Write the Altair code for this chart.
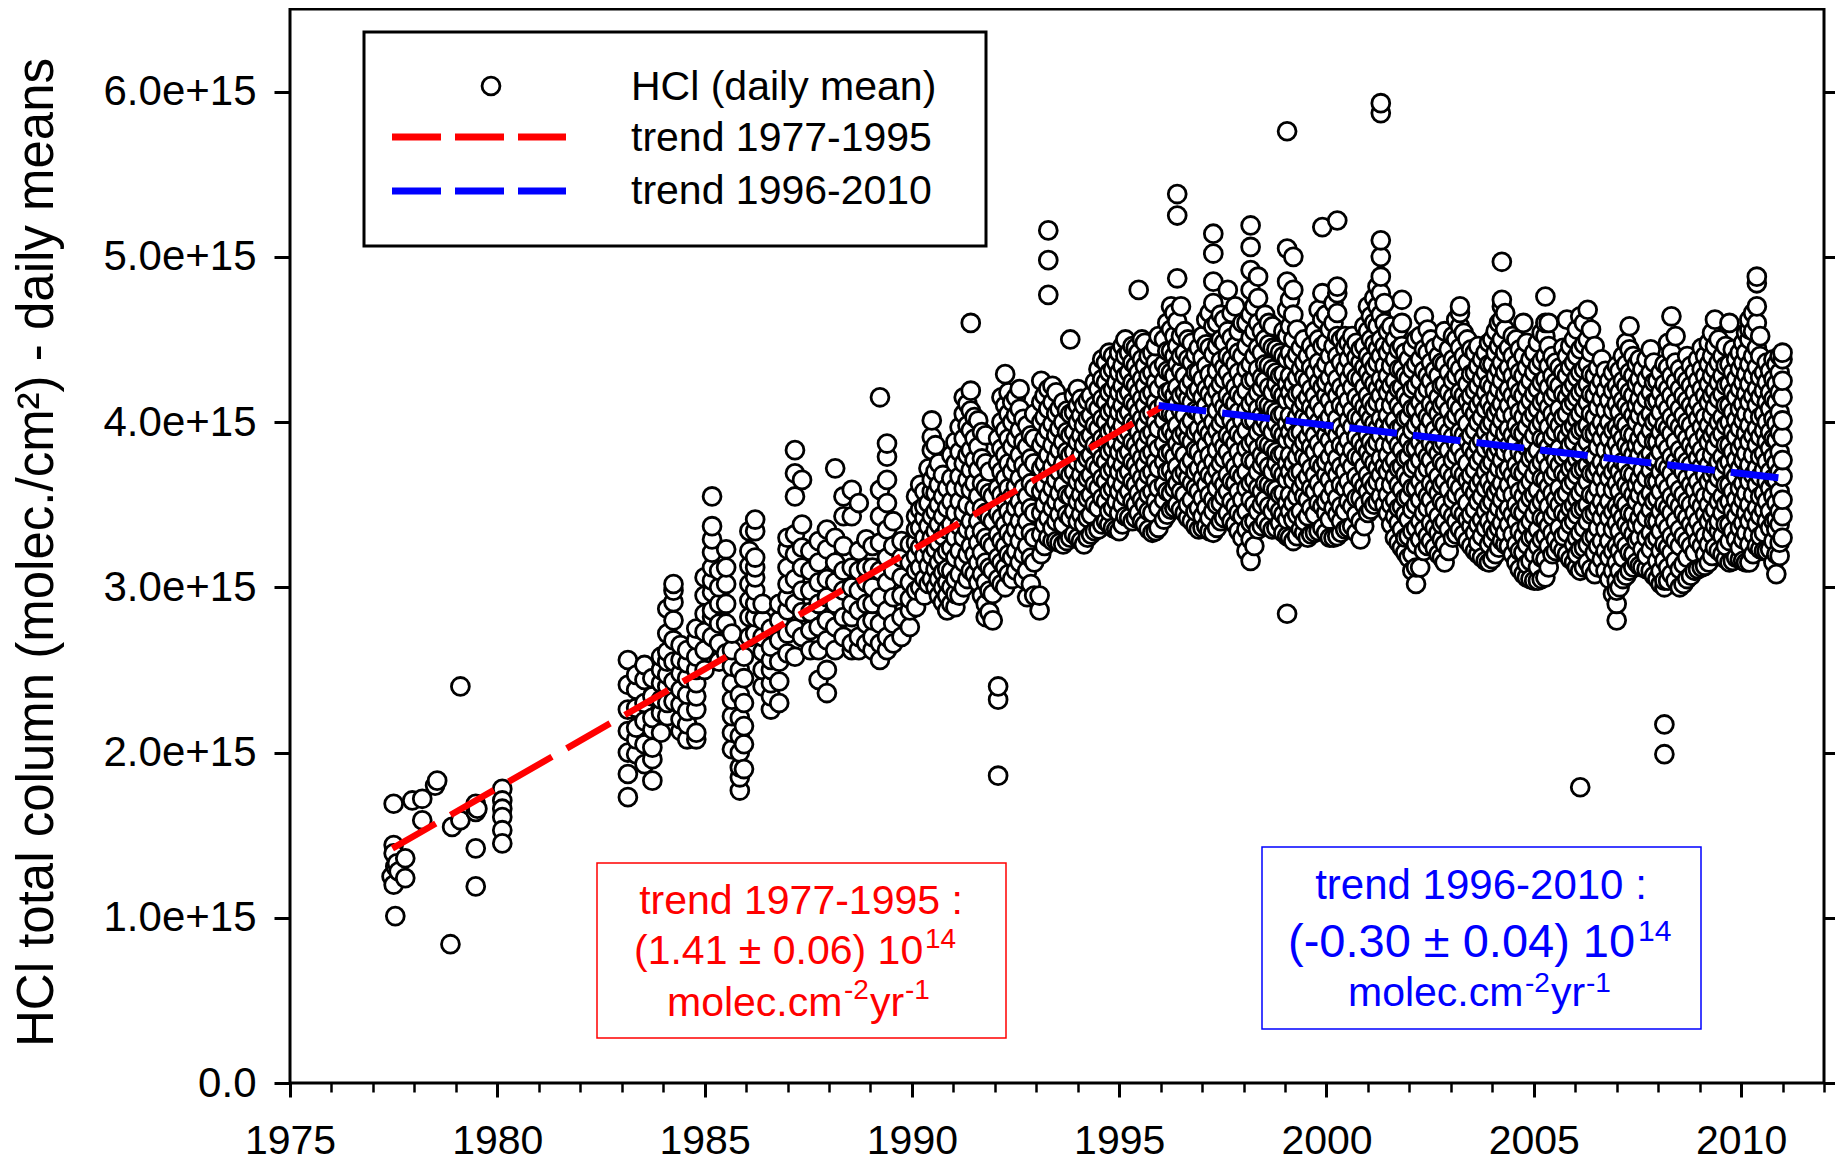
import altair as alt
import pandas as pd

# ---------------- data (HCl total column, in units of 1e15 molec/cm2) ----------------
early_year = [1977.50, 1977.50, 1977.50, 1977.54, 1977.45, 1977.78, 1977.78, 1977.50, 1977.54,
              1977.62, 1977.58, 1977.95, 1978.19, 1978.19, 1978.55, 1978.50, 1978.91, 1978.87,
              1979.11, 1979.11, 1979.48, 1979.48, 1979.48, 1979.48, 1979.52,
              1980.12, 1980.12, 1980.12, 1980.12, 1980.12, 1980.12]
early_hcl = [1.69, 1.44, 1.39, 1.31, 1.25, 1.36, 1.24, 1.20, 1.01,
             1.28, 1.33, 1.71, 1.72, 1.59, 1.83, 1.80, 1.55, 0.84,
             1.59, 2.40, 1.69, 1.64, 1.42, 1.19, 1.66,
             1.78, 1.71, 1.66, 1.61, 1.53, 1.45]

cols_1983_1987 = [
    (1983.15, [1.73, 1.87, 2.00, 2.13, 2.26, 2.41, 2.56]),
    (1983.35, [1.99, 2.08, 2.15, 2.27, 2.38, 2.47]),
    (1983.55, [1.93, 2.05, 2.19, 2.30, 2.44, 2.53]),
    (1983.74, [1.83, 1.96, 2.03, 2.14, 2.21, 2.34, 2.45]),
    (1983.95, [2.12, 2.24, 2.32, 2.42, 2.50, 2.58]),
    (1984.10, [2.22, 2.30, 2.40, 2.47, 2.55, 2.61, 2.72, 2.87]),
    (1984.25, [2.31, 2.43, 2.55, 2.68, 2.80, 2.91, 2.98, 3.02]),
    (1984.42, [2.13, 2.20, 2.29, 2.38, 2.48, 2.56, 2.65]),
    (1984.58, [2.08, 2.17, 2.25, 2.35, 2.45, 2.54, 2.62]),
    (1984.80, [2.08, 2.12, 2.26, 2.34, 2.42, 2.50, 2.58, 2.68, 2.75]),
    (1985.00, [2.50, 2.62, 2.73, 2.84, 2.95, 3.06]),
    (1985.18, [2.70, 2.82, 2.86, 2.97, 3.04, 3.12, 3.21, 3.29, 3.37, 3.55]),
    (1985.35, [2.55, 2.66, 2.78, 2.90, 3.00, 3.10]),
    (1985.52, [2.60, 2.78, 2.90, 3.02, 3.12, 3.23]),
    (1985.66, [2.02, 2.12, 2.22, 2.32, 2.42, 2.52, 2.62, 2.72]),
    (1985.85, [1.77, 1.85, 1.91, 2.00, 2.10, 2.21, 2.35, 2.50]),
    (1985.95, [1.90, 2.05, 2.16, 2.30, 2.45, 2.58]),
    (1986.08, [2.70, 2.82, 2.92, 3.02, 3.13, 3.22, 3.34]),
    (1986.22, [2.72, 2.82, 2.90, 2.98, 3.06, 3.12, 3.18, 3.34, 3.41]),
    (1986.40, [2.40, 2.50, 2.61, 2.70, 2.80, 2.90]),
    (1986.60, [2.26, 2.34, 2.42, 2.50, 2.56, 2.64, 2.75]),
    (1986.80, [2.30, 2.43, 2.55, 2.68, 2.80, 2.90]),
]

cols_1987_1991 = [
    (1987.00, [2.60, 2.72, 2.86, 2.94, 3.02, 3.12, 3.23, 3.30]),
    (1987.18, [2.58, 2.75, 2.90, 3.05, 3.20, 3.32, 3.55, 3.69, 3.83]),
    (1987.35, [2.70, 2.85, 2.98, 3.12, 3.24, 3.38, 3.65]),
    (1987.55, [2.62, 2.74, 2.85, 2.98, 3.10, 3.22]),
    (1987.75, [2.44, 2.62, 2.76, 2.90, 3.03, 3.15, 3.28]),
    (1987.95, [2.36, 2.50, 2.68, 2.80, 2.94, 3.05, 3.23, 3.35]),
    (1988.15, [2.62, 2.76, 2.90, 3.03, 3.15, 3.30, 3.72]),
    (1988.35, [2.70, 2.82, 2.98, 3.10, 3.25, 3.43, 3.55]),
    (1988.55, [2.62, 2.66, 2.82, 2.90, 3.00, 3.12, 3.43, 3.59]),
    (1988.72, [2.62, 2.70, 2.86, 2.98, 3.10, 3.22, 3.51]),
    (1988.90, [2.66, 2.78, 2.90, 3.03, 3.12, 3.29]),
    (1989.05, [2.62, 2.70, 2.80, 2.90, 3.00, 3.12, 3.25]),
    (1989.23, [2.56, 2.66, 2.78, 2.94, 3.10, 3.27, 3.43, 3.59, 4.15]),
    (1989.40, [2.62, 2.70, 2.86, 3.03, 3.18, 3.35, 3.51, 3.65, 3.79, 3.87]),
    (1989.55, [2.66, 2.78, 2.94, 3.10, 3.25, 3.40]),
    (1989.75, [2.70, 2.82, 2.95, 3.06, 3.18, 3.28]),
    (1989.95, [2.76, 2.86, 2.93, 3.03, 3.15, 3.26]),
    (1990.10, [2.88, 2.98, 3.10, 3.19, 3.27, 3.35, 3.43, 3.55]),
    (1990.30, [2.95, 3.05, 3.19, 3.30, 3.42, 3.49, 3.58]),
    (1990.48, [3.05, 3.19, 3.30, 3.43, 3.58, 3.65, 3.83, 3.91, 4.01]),
    (1990.65, [2.95, 3.05, 3.15, 3.27, 3.38, 3.50, 3.62, 3.75]),
    (1990.85, [2.86, 2.95, 3.03, 3.11, 3.22, 3.35, 3.48, 3.60]),
]

cols_1991_1996 = [
    (1991.05, [2.88, 2.96, 3.05, 3.18, 3.30, 3.45, 3.60, 3.75, 3.88]),
    (1991.25, [3.00, 3.15, 3.30, 3.45, 3.60, 3.75, 3.90, 4.05, 4.15]),
    (1991.42, [3.10, 3.25, 3.40, 3.59, 3.71, 3.83, 3.95, 4.07, 4.19, 4.60]),
    (1991.60, [3.03, 3.15, 3.27, 3.40, 3.55, 3.71, 3.85, 4.01]),
    (1991.78, [2.82, 2.90, 3.03, 3.15, 3.30, 3.45, 3.60, 3.75, 3.92]),
    (1991.95, [2.80, 2.96, 3.10, 3.25, 3.40, 3.55]),
    (1992.08, [1.86, 2.32, 2.40, 3.05, 3.18, 3.32, 3.45, 3.60, 3.75, 3.90]),
    (1992.25, [3.00, 3.12, 3.25, 3.38, 3.52, 3.66, 3.80, 3.95, 4.10, 4.29]),
    (1992.42, [3.05, 3.18, 3.30, 3.42, 3.55, 3.70, 3.85, 4.00, 4.12]),
    (1992.60, [3.15, 3.28, 3.40, 3.52, 3.66, 3.80, 3.95, 4.08, 4.20]),
    (1992.78, [2.94, 3.10, 3.25, 3.40, 3.55, 3.70, 3.85, 3.98]),
    (1992.95, [2.95, 3.15, 3.30, 3.45, 3.60, 3.75, 3.90, 4.05]),
    (1993.08, [2.86, 2.95]),
    (1993.12, [3.20, 3.32, 3.45, 3.58, 3.72, 3.86, 4.00, 4.12, 4.25]),
    (1993.29, [3.30, 3.42, 3.55, 3.68, 3.80, 3.95, 4.08, 4.20, 4.77, 4.98, 5.16]),
    (1993.48, [3.28, 3.40, 3.52, 3.65, 3.78, 3.92, 4.05, 4.18]),
    (1993.65, [3.26, 3.38, 3.50, 3.62, 3.75, 3.88, 4.00, 4.12]),
    (1993.82, [3.30, 3.42, 3.55, 3.68, 3.80, 3.92, 4.05, 4.50]),
    (1994.00, [3.30, 3.40, 3.52, 3.64, 3.76, 3.88, 4.00, 4.10, 4.20]),
    (1994.15, [3.26, 3.38, 3.50, 3.62, 3.74, 3.86, 3.98, 4.10]),
    (1994.32, [3.32, 3.44, 3.56, 3.68, 3.80, 3.92, 4.04, 4.16]),
    (1994.50, [3.35, 3.48, 3.60, 3.72, 3.84, 3.96, 4.08, 4.20, 4.32]),
    (1994.68, [3.40, 3.52, 3.64, 3.76, 3.88, 4.00, 4.12, 4.24, 4.36]),
    (1994.85, [3.36, 3.48, 3.60, 3.72, 3.84, 3.96, 4.08, 4.20, 4.32, 4.40]),
    (1995.00, [3.34, 3.45, 3.58, 3.70, 3.82, 3.94, 4.06, 4.18, 4.30, 4.42]),
    (1995.15, [3.43, 3.55, 3.68, 3.80, 3.92, 4.04, 4.16, 4.28, 4.40, 4.50]),
    (1995.32, [3.40, 3.52, 3.64, 3.76, 3.88, 4.00, 4.12, 4.24, 4.36, 4.46]),
    (1995.47, [3.45, 3.57, 3.70, 3.82, 3.94, 4.06, 4.18, 4.30, 4.42, 4.80]),
    (1995.62, [3.38, 3.50, 3.62, 3.74, 3.86, 3.98, 4.10, 4.22, 4.34, 4.48]),
    (1995.80, [3.33, 3.45, 3.58, 3.70, 3.82, 3.94, 4.06, 4.18, 4.30, 4.42]),
    (1995.95, [3.36, 3.48, 3.60, 3.72, 3.84, 3.96, 4.08, 4.20, 4.32, 4.52]),
]

cols_mid_1990_1996 = [
    (1990.20, [3.00, 3.12, 3.24, 3.36, 3.47, 3.62]),
    (1990.40, [3.02, 3.13, 3.25, 3.37, 3.51, 3.72]),
    (1990.57, [3.00, 3.11, 3.23, 3.34, 3.46, 3.57, 3.70, 3.86]),
    (1990.75, [2.91, 3.00, 3.09, 3.19, 3.31, 3.43, 3.55, 3.68]),
    (1990.95, [2.90, 3.00, 3.10, 3.24, 3.38, 3.52, 3.66, 3.80]),
    (1991.15, [2.95, 3.08, 3.22, 3.37, 3.52, 3.67, 3.82, 3.97]),
    (1991.34, [3.05, 3.20, 3.35, 3.50, 3.65, 3.80, 3.98, 4.11]),
    (1991.51, [3.08, 3.20, 3.33, 3.48, 3.63, 3.77, 3.90, 4.03]),
    (1991.69, [2.95, 3.08, 3.21, 3.34, 3.48, 3.63, 3.78, 3.94]),
    (1991.87, [2.85, 2.98, 3.12, 3.27, 3.42, 3.57, 3.70]),
    (1992.16, [3.02, 3.15, 3.28, 3.42, 3.56, 3.70, 3.84, 4.00, 4.15]),
    (1992.33, [3.08, 3.20, 3.33, 3.46, 3.60, 3.75, 3.90, 4.05, 4.18]),
    (1992.51, [3.10, 3.22, 3.35, 3.48, 3.61, 3.75, 3.90, 4.04, 4.15]),
    (1992.69, [3.05, 3.20, 3.34, 3.47, 3.60, 3.74, 3.88, 4.02]),
    (1992.87, [3.02, 3.18, 3.33, 3.48, 3.63, 3.78, 3.92]),
    (1993.20, [3.25, 3.38, 3.50, 3.62, 3.75, 3.90, 4.03, 4.16]),
    (1993.39, [3.28, 3.36, 3.48, 3.60, 3.73, 3.86, 3.99, 4.12, 4.22]),
    (1993.56, [3.27, 3.44, 3.57, 3.70, 3.83, 3.96, 4.08]),
    (1993.74, [3.28, 3.44, 3.56, 3.70, 3.82, 3.94, 4.07]),
    (1993.91, [3.32, 3.46, 3.58, 3.70, 3.82, 3.94, 4.06, 4.16]),
    (1994.08, [3.28, 3.44, 3.56, 3.68, 3.80, 3.92, 4.04, 4.14]),
    (1994.24, [3.30, 3.42, 3.54, 3.66, 3.78, 3.90, 4.02, 4.13]),
    (1994.41, [3.34, 3.50, 3.62, 3.74, 3.86, 3.98, 4.10, 4.24]),
    (1994.59, [3.38, 3.54, 3.66, 3.78, 3.90, 4.02, 4.14, 4.26, 4.38]),
    (1994.76, [3.38, 3.46, 3.58, 3.70, 3.82, 3.94, 4.06, 4.18, 4.30, 4.42]),
    (1994.93, [3.35, 3.52, 3.64, 3.76, 3.88, 4.00, 4.12, 4.24, 4.36]),
    (1995.08, [3.38, 3.50, 3.62, 3.74, 3.86, 3.98, 4.10, 4.22, 4.34, 4.46]),
    (1995.24, [3.42, 3.58, 3.70, 3.82, 3.94, 4.06, 4.18, 4.30, 4.42]),
    (1995.40, [3.42, 3.50, 3.62, 3.74, 3.86, 3.98, 4.10, 4.22, 4.34, 4.45]),
    (1995.55, [3.40, 3.53, 3.66, 3.78, 3.90, 4.02, 4.14, 4.26, 4.38, 4.50]),
    (1995.71, [3.35, 3.46, 3.56, 3.68, 3.80, 3.92, 4.04, 4.16, 4.28, 4.40]),
    (1995.88, [3.34, 3.52, 3.64, 3.76, 3.88, 4.00, 4.12, 4.24, 4.36, 4.46]),
]

cols_1996_2001 = [
    (1996.08, [3.41, 3.53, 3.62, 3.76, 3.87, 4.01, 4.11, 4.25, 4.35, 4.50]),
    (1996.25, [3.47, 3.57, 3.71, 3.82, 3.95, 4.05, 4.19, 4.30, 4.43, 4.56, 4.70]),
    (1996.40, [3.50, 3.63, 3.73, 3.87, 3.98, 4.11, 4.21, 4.35, 4.46, 4.61, 4.87, 5.25, 5.38]),
    (1996.58, [3.45, 3.56, 3.70, 3.80, 3.94, 4.04, 4.18, 4.28, 4.42, 4.55]),
    (1996.75, [3.40, 3.53, 3.63, 3.77, 3.88, 4.01, 4.12, 4.25, 4.36, 4.48]),
    (1996.92, [3.35, 3.48, 3.58, 3.72, 3.82, 3.96, 4.06, 4.20, 4.30, 4.45]),
    (1997.10, [3.37, 3.48, 3.62, 3.72, 3.86, 3.96, 4.10, 4.20, 4.34, 4.47, 4.62]),
    (1997.27, [3.33, 3.46, 3.53, 3.66, 3.76, 3.90, 4.00, 4.14, 4.24, 4.41, 4.58, 4.72, 4.85, 5.02, 5.14]),
    (1997.45, [3.40, 3.51, 3.65, 3.75, 3.89, 3.99, 4.13, 4.23, 4.37, 4.50, 4.65]),
    (1997.62, [3.45, 3.58, 3.68, 3.82, 3.92, 4.06, 4.16, 4.30, 4.40, 4.55, 4.80]),
    (1997.80, [3.38, 3.49, 3.63, 3.73, 3.87, 3.97, 4.11, 4.21, 4.35, 4.46, 4.70]),
    (1997.97, [3.30, 3.43, 3.53, 3.67, 3.77, 3.91, 4.01, 4.15, 4.25, 4.40, 4.60]),
    (1998.17, [3.16, 3.29, 3.39, 3.53, 3.63, 3.77, 3.87, 4.01, 4.11, 4.25, 4.35, 4.51, 4.65, 4.80, 4.92, 5.06, 5.19]),
    (1998.35, [3.35, 3.46, 3.60, 3.70, 3.84, 3.94, 4.08, 4.18, 4.32, 4.45, 4.60, 4.75, 4.88]),
    (1998.52, [3.40, 3.53, 3.63, 3.77, 3.87, 4.01, 4.11, 4.25, 4.35, 4.50, 4.65]),
    (1998.70, [3.35, 3.46, 3.60, 3.70, 3.84, 3.94, 4.08, 4.18, 4.32, 4.45, 4.58]),
    (1998.88, [3.39, 3.46, 3.56, 3.70, 3.80, 3.94, 4.04, 4.18, 4.28, 4.42]),
    (1999.05, [2.84, 3.31, 3.41, 3.51, 3.65, 3.75, 3.89, 3.99, 4.13, 4.23, 4.38, 4.52, 4.68, 4.85, 5.05, 5.76]),
    (1999.20, [3.28, 3.41, 3.51, 3.65, 3.75, 3.89, 3.99, 4.13, 4.23, 4.37, 4.50, 4.65, 4.80, 5.00]),
    (1999.38, [3.35, 3.46, 3.60, 3.70, 3.84, 3.94, 4.08, 4.18, 4.32, 4.45]),
    (1999.55, [3.30, 3.43, 3.53, 3.67, 3.77, 3.91, 4.01, 4.15, 4.25, 4.40]),
    (1999.72, [3.33, 3.44, 3.58, 3.68, 3.82, 3.92, 4.06, 4.16, 4.30, 4.42, 4.55]),
    (1999.90, [3.36, 3.49, 3.59, 3.73, 3.83, 3.97, 4.07, 4.21, 4.31, 4.46, 4.62, 4.78, 5.18]),
    (2000.08, [3.30, 3.41, 3.55, 3.65, 3.79, 3.89, 4.03, 4.13, 4.27, 4.40, 4.56]),
    (2000.26, [3.31, 3.44, 3.54, 3.68, 3.78, 3.92, 4.02, 4.16, 4.26, 4.40, 4.52, 4.66, 4.78, 4.82, 5.22]),
    (2000.45, [3.35, 3.46, 3.60, 3.70, 3.84, 3.94, 4.08, 4.18, 4.32, 4.45, 4.52]),
    (2000.62, [3.37, 3.49, 3.59, 3.73, 3.83, 3.97, 4.07, 4.21, 4.31, 4.44, 4.52]),
    (2000.82, [3.29, 3.40, 3.54, 3.64, 3.78, 3.88, 4.02, 4.12, 4.26, 4.36, 4.44]),
]

cols_2001_2006 = [
    (2001.00, [3.45, 3.58, 3.68, 3.82, 3.92, 4.06, 4.16, 4.30, 4.40, 4.55, 4.70]),
    (2001.15, [3.50, 3.61, 3.75, 3.85, 3.99, 4.09, 4.23, 4.33, 4.47, 4.60, 4.75]),
    (2001.31, [3.55, 3.68, 3.78, 3.92, 4.02, 4.16, 4.26, 4.40, 4.50, 4.65, 4.78, 4.88, 5.00, 5.10, 5.87, 5.93]),
    (2001.48, [3.45, 3.56, 3.70, 3.80, 3.94, 4.04, 4.18, 4.28, 4.42, 4.55]),
    (2001.65, [3.30, 3.43, 3.53, 3.67, 3.77, 3.91, 4.01, 4.15, 4.25, 4.38, 4.50]),
    (2001.82, [3.24, 3.35, 3.49, 3.59, 3.73, 3.83, 3.97, 4.07, 4.21, 4.32, 4.46, 4.60, 4.74]),
    (2001.98, [3.18, 3.31, 3.41, 3.55, 3.65, 3.79, 3.89, 4.03, 4.13, 4.26, 4.38]),
    (2002.16, [3.02, 3.12, 3.26, 3.36, 3.50, 3.60, 3.74, 3.84, 3.98, 4.08, 4.22, 4.35, 4.50]),
    (2002.35, [3.22, 3.35, 3.45, 3.59, 3.69, 3.83, 3.93, 4.07, 4.17, 4.31, 4.44, 4.64]),
    (2002.52, [3.28, 3.39, 3.53, 3.63, 3.77, 3.87, 4.01, 4.11, 4.25, 4.36, 4.50]),
    (2002.70, [3.20, 3.33, 3.43, 3.57, 3.67, 3.81, 3.91, 4.05, 4.15, 4.28, 4.40]),
    (2002.85, [3.15, 3.26, 3.40, 3.50, 3.64, 3.74, 3.88, 3.98, 4.12, 4.23, 4.35, 4.55]),
    (2003.05, [3.30, 3.43, 3.53, 3.67, 3.77, 3.91, 4.01, 4.15, 4.25, 4.38, 4.52]),
    (2003.22, [3.35, 3.46, 3.60, 3.70, 3.84, 3.94, 4.08, 4.18, 4.32, 4.45, 4.58, 4.66, 4.70]),
    (2003.40, [3.28, 3.41, 3.51, 3.65, 3.75, 3.89, 3.99, 4.13, 4.23, 4.36, 4.50]),
    (2003.58, [3.22, 3.33, 3.47, 3.57, 3.71, 3.81, 3.95, 4.05, 4.19, 4.30, 4.42]),
    (2003.75, [3.18, 3.31, 3.41, 3.55, 3.65, 3.79, 3.89, 4.03, 4.13, 4.26, 4.38]),
    (2003.92, [3.15, 3.26, 3.40, 3.50, 3.64, 3.74, 3.88, 3.98, 4.12, 4.23, 4.35, 4.48]),
    (2004.08, [3.20, 3.33, 3.43, 3.57, 3.67, 3.81, 3.91, 4.05, 4.15, 4.28, 4.42, 4.55]),
    (2004.23, [3.28, 3.39, 3.53, 3.63, 3.77, 3.87, 4.01, 4.11, 4.25, 4.36, 4.50, 4.62, 4.70, 4.74, 4.97]),
    (2004.40, [3.25, 3.38, 3.48, 3.62, 3.72, 3.86, 3.96, 4.10, 4.20, 4.33, 4.45]),
    (2004.58, [3.15, 3.26, 3.40, 3.50, 3.64, 3.74, 3.88, 3.98, 4.12, 4.23, 4.35, 4.50]),
    (2004.75, [3.08, 3.21, 3.31, 3.45, 3.55, 3.69, 3.79, 3.93, 4.03, 4.16, 4.28, 4.40, 4.60]),
    (2004.92, [3.05, 3.16, 3.30, 3.40, 3.54, 3.64, 3.78, 3.88, 4.02, 4.13, 4.25, 4.38]),
    (2005.10, [3.04, 3.12, 3.25, 3.35, 3.49, 3.59, 3.73, 3.83, 3.97, 4.08, 4.20, 4.34, 4.48]),
    (2005.28, [3.06, 3.17, 3.31, 3.41, 3.55, 3.65, 3.79, 3.89, 4.03, 4.14, 4.26, 4.40, 4.52, 4.60, 4.76]),
    (2005.45, [3.20, 3.33, 3.43, 3.57, 3.67, 3.81, 3.91, 4.05, 4.15, 4.28, 4.40]),
    (2005.62, [3.25, 3.36, 3.50, 3.60, 3.74, 3.84, 3.98, 4.08, 4.22, 4.33]),
    (2005.80, [3.20, 3.33, 3.43, 3.57, 3.67, 3.81, 3.91, 4.05, 4.15, 4.28, 4.40, 4.62]),
    (2005.97, [3.15, 3.26, 3.40, 3.50, 3.64, 3.74, 3.88, 3.98, 4.12, 4.23, 4.36, 4.50]),
]

cols_2006_2011 = [
    (2006.12, [1.79, 3.10, 3.23, 3.33, 3.47, 3.57, 3.71, 3.81, 3.95, 4.05, 4.18, 4.30, 4.44, 4.64]),
    (2006.30, [3.15, 3.26, 3.40, 3.50, 3.64, 3.74, 3.88, 3.98, 4.12, 4.23, 4.35, 4.50, 4.68]),
    (2006.47, [3.08, 3.21, 3.31, 3.45, 3.55, 3.69, 3.79, 3.93, 4.03, 4.16, 4.28, 4.46]),
    (2006.64, [3.17, 3.28, 3.42, 3.52, 3.66, 3.76, 3.90, 4.00, 4.14, 4.25, 4.38]),
    (2006.82, [3.05, 3.18, 3.28, 3.42, 3.52, 3.66, 3.76, 3.90, 4.00, 4.13, 4.25]),
    (2007.00, [2.80, 2.90, 2.98, 3.04, 3.15, 3.25, 3.39, 3.49, 3.63, 3.73, 3.87, 3.97, 4.11, 4.22, 4.34]),
    (2007.15, [3.05, 3.18, 3.28, 3.42, 3.52, 3.66, 3.76, 3.90, 4.00, 4.13, 4.25, 4.40]),
    (2007.31, [3.10, 3.21, 3.35, 3.45, 3.59, 3.69, 3.83, 3.93, 4.07, 4.18, 4.30, 4.44, 4.58]),
    (2007.48, [3.15, 3.28, 3.38, 3.52, 3.62, 3.76, 3.86, 4.00, 4.10, 4.23, 4.35]),
    (2007.62, [3.12, 3.23, 3.37, 3.47, 3.61, 3.71, 3.85, 3.95, 4.09, 4.20, 4.32]),
    (2007.82, [3.10, 3.23, 3.33, 3.47, 3.57, 3.71, 3.81, 3.95, 4.05, 4.18, 4.30, 4.44]),
    (2007.98, [3.05, 3.16, 3.30, 3.40, 3.54, 3.64, 3.78, 3.88, 4.02, 4.13, 4.25]),
    (2008.15, [1.99, 2.17, 3.00, 3.04, 3.16, 3.26, 3.40, 3.50, 3.64, 3.74, 3.88, 3.98, 4.12, 4.23, 4.35]),
    (2008.32, [3.08, 3.21, 3.31, 3.45, 3.55, 3.69, 3.79, 3.93, 4.03, 4.16, 4.28, 4.42, 4.64]),
    (2008.52, [3.00, 3.11, 3.25, 3.35, 3.49, 3.59, 3.73, 3.83, 3.97, 4.08, 4.20, 4.32]),
    (2008.70, [3.05, 3.18, 3.28, 3.42, 3.52, 3.66, 3.76, 3.90, 4.00, 4.13, 4.25, 4.40]),
    (2008.88, [3.10, 3.21, 3.35, 3.45, 3.59, 3.69, 3.83, 3.93, 4.07, 4.18, 4.30]),
    (2009.05, [3.12, 3.25, 3.35, 3.49, 3.59, 3.73, 3.83, 3.97, 4.07, 4.20, 4.32, 4.45]),
    (2009.22, [3.15, 3.26, 3.40, 3.50, 3.64, 3.74, 3.88, 3.98, 4.12, 4.23, 4.35, 4.48]),
    (2009.37, [3.24, 3.37, 3.47, 3.61, 3.71, 3.85, 3.95, 4.09, 4.19, 4.32, 4.46, 4.62]),
    (2009.55, [3.20, 3.31, 3.45, 3.55, 3.69, 3.79, 3.93, 4.03, 4.17, 4.28, 4.40]),
    (2009.72, [3.15, 3.28, 3.38, 3.52, 3.62, 3.76, 3.86, 4.00, 4.10, 4.23, 4.35, 4.60]),
    (2009.88, [3.18, 3.29, 3.43, 3.53, 3.67, 3.77, 3.91, 4.01, 4.15, 4.26, 4.38]),
    (2010.05, [3.16, 3.29, 3.39, 3.53, 3.63, 3.77, 3.87, 4.01, 4.11, 4.24, 4.36, 4.48]),
    (2010.20, [3.15, 3.26, 3.40, 3.50, 3.64, 3.74, 3.88, 3.98, 4.12, 4.23, 4.35, 4.50, 4.56, 4.62]),
    (2010.38, [3.25, 3.38, 3.48, 3.62, 3.72, 3.86, 3.96, 4.10, 4.20, 4.33, 4.45, 4.60, 4.70, 4.84, 4.88]),
    (2010.55, [3.22, 3.33, 3.47, 3.57, 3.71, 3.81, 3.95, 4.05, 4.19, 4.30]),
    (2010.70, [3.23, 3.36, 3.46, 3.60, 3.70, 3.84, 3.94, 4.08, 4.18, 4.31]),
    (2010.85, [3.08, 3.20, 3.35, 3.41, 3.51, 3.65, 3.75, 3.89, 3.99, 4.12, 4.23, 4.35]),
    (2011.00, [3.30, 3.43, 3.53, 3.67, 3.77, 3.91, 4.01, 4.15, 4.25, 4.38, 4.42]),
]

cols_mid_1996_2003 = [
    (1996.16, [3.44, 3.58, 3.70, 3.81, 3.93, 4.06, 4.18, 4.31, 4.43, 4.60]),
    (1996.33, [3.48, 3.60, 3.67, 3.79, 3.92, 4.04, 4.16, 4.28, 4.40, 4.52, 4.66]),
    (1996.49, [3.47, 3.58, 3.68, 3.83, 3.92, 4.07, 4.16, 4.31, 4.40, 4.52, 4.70]),
    (1996.66, [3.42, 3.50, 3.66, 3.74, 3.90, 3.98, 4.14, 4.22, 4.38, 4.50]),
    (1996.84, [3.37, 3.46, 3.60, 3.70, 3.83, 3.94, 4.07, 4.18, 4.30, 4.41]),
    (1997.01, [3.36, 3.43, 3.54, 3.66, 3.78, 3.91, 4.03, 4.15, 4.26, 4.39, 4.52]),
    (1997.18, [3.34, 3.42, 3.56, 3.68, 3.80, 3.93, 4.05, 4.17, 4.29, 4.45, 4.66]),
    (1997.36, [3.36, 3.50, 3.60, 3.71, 3.83, 3.95, 4.07, 4.19, 4.31, 4.46, 4.60]),
    (1997.53, [3.42, 3.55, 3.62, 3.78, 3.85, 4.02, 4.09, 4.26, 4.33, 4.48, 4.62]),
    (1997.71, [3.40, 3.52, 3.64, 3.77, 3.90, 4.01, 4.13, 4.25, 4.38, 4.51, 4.66]),
    (1997.88, [3.34, 3.45, 3.58, 3.69, 3.82, 3.93, 4.06, 4.17, 4.30, 4.42, 4.55]),
    (1998.07, [3.22, 3.35, 3.46, 3.60, 3.70, 3.84, 3.95, 4.07, 4.19, 4.32, 4.46, 4.60]),
    (1998.26, [3.25, 3.40, 3.50, 3.65, 3.76, 3.89, 4.01, 4.14, 4.26, 4.40, 4.55, 4.70]),
    (1998.44, [3.37, 3.50, 3.58, 3.74, 3.80, 3.97, 4.04, 4.21, 4.27, 4.42, 4.55]),
    (1998.61, [3.37, 3.49, 3.62, 3.73, 3.86, 3.97, 4.10, 4.21, 4.34, 4.47, 4.60]),
    (1998.79, [3.36, 3.50, 3.59, 3.75, 3.82, 3.99, 4.06, 4.23, 4.30, 4.44]),
    (1998.96, [3.33, 3.44, 3.57, 3.68, 3.81, 3.92, 4.05, 4.16, 4.29, 4.40, 4.55]),
    (1999.12, [3.30, 3.46, 3.56, 3.70, 3.80, 3.94, 4.04, 4.18, 4.28, 4.42, 4.58, 4.74]),
    (1999.29, [3.31, 3.44, 3.55, 3.69, 3.79, 3.93, 4.03, 4.17, 4.27, 4.41, 4.56]),
    (1999.46, [3.33, 3.40, 3.55, 3.64, 3.79, 3.88, 4.03, 4.12, 4.27, 4.36, 4.50]),
    (1999.63, [3.32, 3.48, 3.60, 3.72, 3.85, 3.96, 4.09, 4.20, 4.33, 4.46]),
    (1999.81, [3.34, 3.51, 3.63, 3.75, 3.87, 4.00, 4.11, 4.24, 4.36, 4.50, 4.68]),
    (1999.99, [3.33, 3.45, 3.52, 3.68, 3.76, 3.92, 4.00, 4.16, 4.24, 4.35, 4.48, 4.65]),
    (2000.17, [3.30, 3.48, 3.60, 3.72, 3.84, 3.96, 4.08, 4.20, 4.32, 4.46, 4.60, 4.72]),
    (2000.35, [3.33, 3.40, 3.49, 3.62, 3.73, 3.86, 3.97, 4.10, 4.21, 4.36, 4.50]),
    (2000.53, [3.36, 3.52, 3.64, 3.77, 3.89, 4.01, 4.13, 4.26, 4.38, 4.48]),
    (2000.72, [3.33, 3.44, 3.54, 3.67, 3.79, 3.91, 4.03, 4.15, 4.27, 4.39, 4.48]),
    (2000.91, [3.37, 3.50, 3.61, 3.73, 3.85, 3.97, 4.09, 4.21, 4.33, 4.46, 4.58]),
    (2001.07, [3.47, 3.53, 3.64, 3.78, 3.88, 4.02, 4.12, 4.26, 4.37, 4.50, 4.64]),
    (2001.23, [3.52, 3.64, 3.72, 3.88, 3.96, 4.12, 4.20, 4.36, 4.44, 4.58, 4.70, 4.82]),
    (2001.40, [3.50, 3.62, 3.73, 3.86, 3.98, 4.10, 4.22, 4.34, 4.46, 4.60, 4.72]),
    (2001.56, [3.38, 3.50, 3.62, 3.74, 3.86, 3.98, 4.10, 4.22, 4.34, 4.46, 4.58]),
    (2001.74, [3.27, 3.39, 3.48, 3.62, 3.72, 3.86, 3.96, 4.10, 4.20, 4.32, 4.44, 4.56]),
    (2001.90, [3.21, 3.30, 3.44, 3.54, 3.68, 3.78, 3.92, 4.02, 4.16, 4.28, 4.42]),
    (2002.07, [3.10, 3.20, 3.34, 3.47, 3.60, 3.72, 3.84, 3.95, 4.08, 4.20, 4.32, 4.45]),
    (2002.26, [3.12, 3.29, 3.40, 3.53, 3.64, 3.77, 3.88, 4.01, 4.12, 4.25, 4.38, 4.52]),
    (2002.44, [3.25, 3.31, 3.48, 3.55, 3.72, 3.79, 3.96, 4.03, 4.20, 4.28, 4.42, 4.56]),
    (2002.61, [3.24, 3.36, 3.47, 3.60, 3.71, 3.84, 3.95, 4.08, 4.19, 4.31, 4.45]),
    (2002.78, [3.18, 3.29, 3.38, 3.52, 3.62, 3.76, 3.86, 4.00, 4.10, 4.22, 4.36, 4.48]),
    (2002.95, [3.22, 3.35, 3.46, 3.59, 3.70, 3.83, 3.94, 4.07, 4.18, 4.30, 4.44]),
]

cols_mid_2003_2011 = [
    (2003.13, [3.32, 3.40, 3.56, 3.63, 3.80, 3.87, 4.04, 4.11, 4.28, 4.35, 4.50, 4.62]),
    (2003.31, [3.32, 3.44, 3.55, 3.68, 3.79, 3.92, 4.03, 4.16, 4.27, 4.40, 4.54]),
    (2003.49, [3.25, 3.37, 3.44, 3.60, 3.68, 3.84, 3.92, 4.08, 4.16, 4.29, 4.44]),
    (2003.66, [3.20, 3.27, 3.38, 3.52, 3.62, 3.76, 3.86, 4.00, 4.10, 4.22, 4.34, 4.46]),
    (2003.84, [3.16, 3.36, 3.46, 3.60, 3.70, 3.84, 3.94, 4.08, 4.18, 4.30, 4.42]),
    (2004.00, [3.17, 3.29, 3.36, 3.52, 3.60, 3.76, 3.84, 4.00, 4.08, 4.21, 4.35, 4.50]),
    (2004.16, [3.24, 3.36, 3.48, 3.60, 3.72, 3.84, 3.96, 4.08, 4.20, 4.32, 4.46, 4.60]),
    (2004.31, [3.26, 3.33, 3.45, 3.57, 3.70, 3.82, 3.93, 4.05, 4.17, 4.30, 4.42, 4.56, 4.66]),
    (2004.49, [3.20, 3.32, 3.44, 3.56, 3.68, 3.80, 3.92, 4.04, 4.16, 4.28, 4.40, 4.52]),
    (2004.66, [3.11, 3.22, 3.34, 3.46, 3.58, 3.70, 3.82, 3.94, 4.06, 4.18, 4.30, 4.44]),
    (2004.83, [3.06, 3.14, 3.26, 3.37, 3.50, 3.61, 3.73, 3.85, 3.97, 4.09, 4.21, 4.33, 4.48]),
    (2005.01, [3.04, 3.20, 3.31, 3.44, 3.56, 3.68, 3.80, 3.92, 4.05, 4.17, 4.30, 4.42]),
    (2005.19, [3.05, 3.18, 3.29, 3.42, 3.52, 3.66, 3.76, 3.90, 4.00, 4.12, 4.24, 4.37, 4.54]),
    (2005.36, [3.12, 3.25, 3.37, 3.49, 3.61, 3.73, 3.85, 3.97, 4.09, 4.21, 4.34, 4.46, 4.60]),
    (2005.53, [3.22, 3.29, 3.46, 3.53, 3.70, 3.77, 3.94, 4.01, 4.18, 4.24, 4.36]),
    (2005.71, [3.22, 3.31, 3.45, 3.55, 3.69, 3.79, 3.93, 4.03, 4.17, 4.30, 4.45]),
    (2005.88, [3.17, 3.38, 3.48, 3.62, 3.72, 3.86, 3.96, 4.10, 4.20, 4.33, 4.46]),
    (2006.04, [3.12, 3.20, 3.30, 3.44, 3.54, 3.68, 3.78, 3.92, 4.02, 4.15, 4.27, 4.40, 4.56]),
    (2006.21, [3.12, 3.24, 3.36, 3.48, 3.60, 3.72, 3.84, 3.96, 4.08, 4.20, 4.32, 4.47, 4.60]),
    (2006.38, [3.11, 3.30, 3.44, 3.56, 3.69, 3.80, 3.93, 4.05, 4.17, 4.29, 4.42, 4.56]),
    (2006.55, [3.12, 3.25, 3.36, 3.48, 3.60, 3.72, 3.85, 3.96, 4.09, 4.21, 4.33]),
    (2006.73, [3.10, 3.22, 3.35, 3.47, 3.59, 3.71, 3.83, 3.95, 4.07, 4.19, 4.31]),
    (2006.91, [2.96, 3.10, 3.22, 3.35, 3.46, 3.59, 3.70, 3.83, 3.95, 4.07, 4.19, 4.30]),
    (2007.07, [3.00, 3.10, 3.22, 3.34, 3.46, 3.58, 3.70, 3.82, 3.94, 4.06, 4.18, 4.31]),
    (2007.23, [3.07, 3.25, 3.38, 3.50, 3.62, 3.74, 3.86, 3.98, 4.10, 4.22, 4.35, 4.48]),
    (2007.40, [3.12, 3.20, 3.32, 3.44, 3.56, 3.68, 3.80, 3.92, 4.04, 4.16, 4.28, 4.40]),
    (2007.55, [3.13, 3.30, 3.42, 3.56, 3.66, 3.80, 3.90, 4.04, 4.14, 4.26, 4.38]),
    (2007.72, [3.11, 3.19, 3.30, 3.42, 3.54, 3.66, 3.78, 3.90, 4.02, 4.14, 4.26, 4.38]),
    (2007.90, [3.07, 3.28, 3.40, 3.52, 3.64, 3.76, 3.88, 4.00, 4.12, 4.24, 4.36]),
    (2008.06, [3.02, 3.10, 3.22, 3.34, 3.46, 3.58, 3.70, 3.82, 3.94, 4.06, 4.18, 4.30]),
    (2008.24, [3.04, 3.12, 3.24, 3.36, 3.48, 3.60, 3.72, 3.84, 3.96, 4.08, 4.20, 4.33, 4.48]),
    (2008.42, [3.04, 3.16, 3.28, 3.40, 3.52, 3.64, 3.76, 3.88, 4.00, 4.12, 4.24, 4.36, 4.52]),
    (2008.61, [3.02, 3.14, 3.31, 3.45, 3.56, 3.70, 3.80, 3.94, 4.04, 4.16, 4.28]),
    (2008.79, [3.07, 3.25, 3.38, 3.50, 3.62, 3.74, 3.86, 3.98, 4.10, 4.22, 4.34]),
    (2008.96, [3.11, 3.28, 3.40, 3.52, 3.64, 3.78, 3.88, 4.02, 4.12, 4.25, 4.38]),
    (2009.13, [3.13, 3.20, 3.31, 3.44, 3.55, 3.68, 3.79, 3.92, 4.03, 4.16, 4.28, 4.40]),
    (2009.30, [3.19, 3.32, 3.44, 3.56, 3.68, 3.80, 3.92, 4.04, 4.16, 4.28, 4.40, 4.54]),
    (2009.46, [3.22, 3.34, 3.40, 3.52, 3.66, 3.76, 3.90, 4.00, 4.14, 4.24, 4.36, 4.50]),
    (2009.63, [3.17, 3.25, 3.38, 3.50, 3.62, 3.74, 3.86, 3.98, 4.10, 4.22, 4.34, 4.46]),
    (2009.80, [3.16, 3.34, 3.46, 3.58, 3.70, 3.82, 3.94, 4.06, 4.18, 4.30, 4.44]),
    (2009.97, [3.17, 3.24, 3.36, 3.48, 3.60, 3.72, 3.84, 3.96, 4.08, 4.20, 4.32, 4.42]),
    (2010.12, [3.15, 3.33, 3.45, 3.57, 3.69, 3.81, 3.93, 4.05, 4.17, 4.29, 4.42, 4.54]),
    (2010.29, [3.20, 3.32, 3.44, 3.56, 3.68, 3.80, 3.92, 4.04, 4.16, 4.28, 4.40, 4.55, 4.66]),
    (2010.46, [3.23, 3.31, 3.43, 3.55, 3.67, 3.79, 3.91, 4.03, 4.15, 4.27, 4.40, 4.52]),
    (2010.62, [3.22, 3.40, 3.52, 3.64, 3.76, 3.88, 4.00, 4.12, 4.24, 4.36]),
    (2010.78, [3.15, 3.28, 3.40, 3.55, 3.66, 3.79, 3.90, 4.02, 4.14, 4.26, 4.38]),
    (2010.93, [3.19, 3.27, 3.38, 3.46, 3.58, 3.70, 3.82, 3.94, 4.06, 4.18, 4.30, 4.40]),
]

# trend lines (end points)
trend_early_year = [1977.47, 1996.08]
trend_early_hcl = [1.42, 4.10]
trend_late_year = [1995.95, 2011.00]
trend_late_hcl = [4.10, 3.66]

# axis ticks
y_ticks = [0, 1, 2, 3, 4, 5, 6]
x_label_years = [1975, 1980, 1985, 1990, 1995, 2000, 2005, 2010]
x_minor_years = list(range(1975, 2013))

# texts
legend_labels = ["HCl (daily mean)", "trend 1977-1995", "trend 1996-2010"]
red_note = ["trend 1977-1995 :", "(1.41 \u00b1 0.06) 10", "14", "molec.cm", "-2", "yr", "-1"]
blue_note = ["trend 1996-2010 :", "(-0.30 \u00b1 0.04) 10", "14", "molec.cm", "-2", "yr", "-1"]
y_title = "HCl total column (molec./cm\u00b2) - daily means"

# ---------------- build tables ----------------
E15 = 1e15
rows = [(x, y * E15) for x, y in zip(early_year, early_hcl)]
for block in (cols_1983_1987, cols_1987_1991, cols_1991_1996, cols_mid_1990_1996,
              cols_1996_2001, cols_2001_2006, cols_2006_2011, cols_mid_1996_2003, cols_mid_2003_2011):
    for x, ys in block:
        rows.extend((x, y * E15) for y in ys)
obs = pd.DataFrame(rows, columns=["year", "hcl"]).sort_values("year", kind="stable").reset_index(drop=True)
tr_early = pd.DataFrame({"year": trend_early_year, "hcl": [v * E15 for v in trend_early_hcl]})
tr_late = pd.DataFrame({"year": trend_late_year, "hcl": [v * E15 for v in trend_late_hcl]})

FONT = "Liberation Sans"
W, H = 1534, 1074
OX, OY = 290, 9  # plot origin on the page
PT_SIZE = 320

xscale = alt.Scale(domain=[1975, 2012], nice=False, zero=False)
yscale = alt.Scale(domain=[0, 6.5e15], nice=False)

x_major_axis = alt.Axis(orient="bottom", values=x_label_years, format="d", tickSize=14, tickWidth=3,
                        tickColor="black", domain=False, grid=False, labelFont=FONT, labelFontSize=41,
                        labelColor="black", labelPadding=24, labelFlush=False, labelOverlap=False,
                        labelBound=False, title=None)
x_minor_axis = alt.Axis(orient="bottom", values=x_minor_years, tickSize=9, tickWidth=2.5,
                        tickColor="black", domain=False, grid=False, labels=False, title=None)
y_left_axis = alt.Axis(orient="left", values=[v * E15 for v in y_ticks], tickSize=16, tickWidth=3,
                       tickColor="black", domain=False, grid=False, labelFont=FONT, labelFontSize=42,
                       labelColor="black", labelPadding=18,
                       labelExpr="datum.value == 0 ? '0.0' : format(datum.value, '.1e')",
                       title=y_title, titleFont=FONT, titleFontSize=51, titleFontWeight="normal",
                       titleColor="black", titleAngle=270, titleAlign="center", titleBaseline="middle",
                       titleX=37 - OX, titleY=552 - OY)
y_right_axis = alt.Axis(orient="right", values=[v * E15 for v in y_ticks], tickSize=11, tickWidth=3,
                        tickColor="black", domain=False, grid=False, labels=False, title=None)

points = alt.Chart(obs).mark_point(shape="circle", size=PT_SIZE, filled=True, fill="white",
                                   stroke="black", strokeWidth=2.8, opacity=1).encode(
    x=alt.X("year:Q", scale=xscale, axis=x_major_axis),
    y=alt.Y("hcl:Q", scale=yscale, axis=y_left_axis),
)

red_line = alt.Chart(tr_early).mark_line(color="#ff0000", strokeWidth=6.5, strokeDash=[50, 17],
                                         strokeCap="butt").encode(
    x=alt.X("year:Q", scale=xscale, axis=x_minor_axis),
    y=alt.Y("hcl:Q", scale=yscale, axis=y_right_axis),
)
blue_line = alt.Chart(tr_late).mark_line(color="#0000ff", strokeWidth=7, strokeDash=[48, 16],
                                         strokeCap="butt").encode(
    x=alt.X("year:Q", scale=xscale, axis=None),
    y=alt.Y("hcl:Q", scale=yscale, axis=None),
)


def one(value):
    return alt.Data(values=[{"t": value}])


def text(s, x, y, size, color="black", align="left"):
    return alt.Chart(one(s)).mark_text(font=FONT, fontSize=size, color=color, align=align,
                                       baseline="alphabetic").encode(
        x=alt.value(x - OX), y=alt.value(y - OY), text="t:N")


def box(x1, y1, x2, y2, color, sw, fill="white"):
    return alt.Chart(one("")).mark_rect(fill=fill, stroke=color, strokeWidth=sw).encode(
        x=alt.value(x1 - OX), x2=alt.value(x2 - OX), y=alt.value(y1 - OY), y2=alt.value(y2 - OY))


def dash(x1, x2, y, color):
    return alt.Chart(one("")).mark_rule(color=color, strokeWidth=7, strokeDash=[49, 14],
                                        strokeCap="butt").encode(
        x=alt.value(x1 - OX), x2=alt.value(x2 - OX), y=alt.value(y - OY))


legend_symbol = alt.Chart(one("")).mark_point(shape="circle", size=PT_SIZE, filled=True, fill="white",
                                              stroke="black", strokeWidth=2.8, opacity=1).encode(
    x=alt.value(491 - OX), y=alt.value(86 - OY))

decor = [
    box(364, 32, 986, 246, "black", 3),
    legend_symbol,
    dash(392, 566, 137, "#ff0000"),
    dash(392, 566, 191, "#0000ff"),
    text(legend_labels[0], 631, 100, 41),
    text(legend_labels[1], 631, 151, 41),
    text(legend_labels[2], 631, 204, 41),
    # red note
    box(597, 863, 1006, 1038, "#ff0000", 1.5),
    text(red_note[0], 801, 914, 41, "#ff0000", "center"),
    text(red_note[1], 634, 964, 41, "#ff0000"),
    text(red_note[2], 925, 948, 28, "#ff0000"),
    text(red_note[3], 667, 1016, 41, "#ff0000"),
    text(red_note[4], 844, 999, 28, "#ff0000"),
    text(red_note[5], 870, 1016, 41, "#ff0000"),
    text(red_note[6], 905, 999, 28, "#ff0000"),
    # blue note
    box(1262, 847, 1701, 1029, "#0000ff", 1.5),
    text(blue_note[0], 1481, 899, 42, "#0000ff", "center"),
    text(blue_note[1], 1288, 957, 47, "#0000ff"),
    text(blue_note[2], 1638, 941, 30, "#0000ff"),
    text(blue_note[3], 1348, 1006, 41, "#0000ff"),
    text(blue_note[4], 1525, 992, 28, "#0000ff"),
    text(blue_note[5], 1551, 1006, 41, "#0000ff"),
    text(blue_note[6], 1586, 992, 28, "#0000ff"),
]

chart = alt.layer(points, red_line, blue_line, *decor).resolve_axis(
    x="independent", y="independent"
).properties(
    width=W, height=H,
    autosize=alt.AutoSizeParams(type="none"),
    padding={"left": OX - 8, "top": OY - 8, "right": 11, "bottom": 81},
    background="white",
).configure_view(stroke="black", strokeWidth=3)

chart.save("out.html", embed_options={"renderer": "svg", "actions": False})
